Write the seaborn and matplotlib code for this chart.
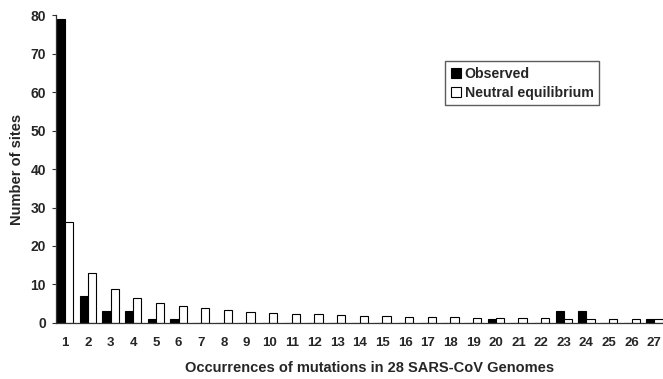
import matplotlib
matplotlib.use("Agg")
import matplotlib.pyplot as plt
import seaborn as sns
import pandas as pd

categories = [str(i) for i in range(1, 28)]
observed = [79, 7, 3, 3, 1, 1, 0, 0, 0, 0, 0, 0, 0, 0, 0, 0, 0, 0, 0, 1, 0, 0, 3, 3, 0, 0, 1]
neutral = [26.2, 13.1, 8.7, 6.6, 5.3, 4.4, 3.8, 3.3, 2.9, 2.6, 2.4, 2.2, 2.0, 1.9, 1.8,
           1.6, 1.5, 1.5, 1.4, 1.3, 1.2, 1.2, 1.1, 1.1, 1.0, 1.0, 1.0]
series_names = ["Observed", "Neutral equilibrium"]

df = pd.DataFrame({
    "occ": categories * 2,
    "sites": observed + neutral,
    "series": [series_names[0]] * len(categories) + [series_names[1]] * len(categories),
})

sns.set_style("white")
plt.rcParams["font.family"] = ["Liberation Sans", "DejaVu Sans"]
plt.rcParams["font.weight"] = "bold"

fig = plt.figure(figsize=(6.63, 3.79), dpi=100)
ax = fig.add_axes([0.084, 0.148, 0.916, 0.812])

sns.barplot(data=df, x="occ", y="sites", hue="series", hue_order=series_names,
            order=categories, palette=["black", "white"], edgecolor="black",
            linewidth=0.8, width=0.72, ax=ax, legend=True)

ax.set_ylim(0, 80)
ax.set_xlim(-0.42, 26.38)
ax.set_yticks(range(0, 81, 10))
for s in ["top", "right"]:
    ax.spines[s].set_visible(False)
for s in ["left", "bottom"]:
    ax.spines[s].set_color("#333333")
    ax.spines[s].set_linewidth(0.9)
ax.tick_params(axis="y", left=True, length=3, width=0.8, color="#333333", labelsize=10, pad=4)
ax.tick_params(axis="x", bottom=False, labelsize=9.5, pad=7)
for lbl in ax.get_xticklabels() + ax.get_yticklabels():
    lbl.set_fontweight("bold")
ax.set_ylabel("Number of sites", fontsize=10.5, fontweight="bold", labelpad=5)
ax.set_xlabel("Occurrences of mutations in 28 SARS-CoV Genomes", fontsize=10.5,
              fontweight="bold", labelpad=7)
ax.xaxis.set_label_coords(0.516, -0.125)

leg = ax.legend(loc="upper left", bbox_to_anchor=(0.641, 0.851), frameon=True,
                fancybox=False, edgecolor="#333333", fontsize=10.2,
                handlelength=0.7, handleheight=0.7, handletextpad=0.3,
                labelspacing=0.35, borderpad=0.4, borderaxespad=0)
leg.get_frame().set_linewidth(1.0)
for t in leg.get_texts():
    t.set_fontweight("bold")

fig.savefig("out.png", dpi=100)
